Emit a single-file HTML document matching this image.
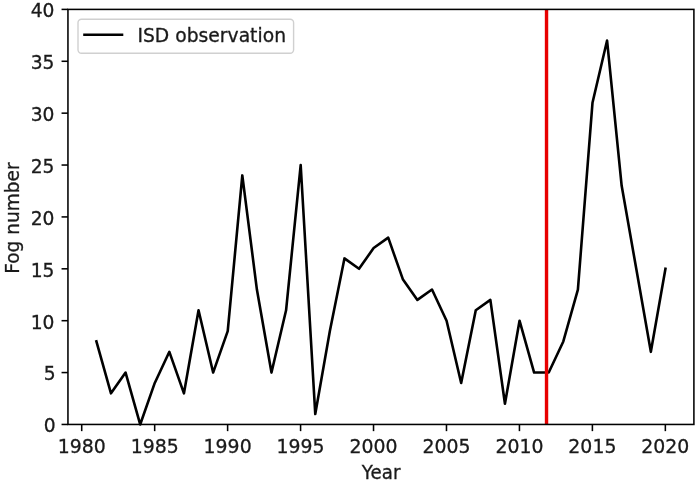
<!DOCTYPE html>
<html><head><meta charset="utf-8"><title>Fog number</title>
<style>html,body{margin:0;padding:0;background:#fff;}svg{display:block;filter:blur(0.6px);}text{font-family:"DejaVu Sans","Liberation Sans",sans-serif;fill:#1a1a1a;stroke:#1a1a1a;stroke-width:0.3px;}</style>
</head><body>
<svg width="700" height="487" viewBox="0 0 700 487">
<rect x="0" y="0" width="700" height="487" fill="#fff"/>
<polyline points="96.40,341.44 110.99,393.32 125.58,372.57 140.18,424.45 154.77,382.94 169.36,351.82 183.95,393.32 198.54,310.31 213.13,372.57 227.72,331.06 242.31,175.42 256.90,289.56 271.49,372.57 286.08,310.31 300.68,165.04 315.27,414.07 329.86,331.06 344.45,258.43 359.04,268.81 373.63,248.05 388.22,237.68 402.81,279.18 417.40,299.93 431.99,289.56 446.58,320.69 461.17,382.94 475.77,310.31 490.36,299.93 504.95,403.70 519.54,320.69 534.13,372.57 548.72,372.57 563.31,341.44 577.90,289.56 592.49,102.79 607.08,40.53 621.67,185.80 636.27,268.81 650.86,351.82 665.45,268.81" fill="none" stroke="#000" stroke-width="2.6" stroke-linejoin="round" stroke-linecap="square"/>
<line x1="546.53" y1="9.4" x2="546.53" y2="424.45" stroke="#e80000" stroke-width="3.4"/>
<rect x="67.95" y="9.4" width="625.9499999999999" height="415.05" fill="none" stroke="#000" stroke-width="1.55"/>
<line x1="81.71" y1="424.45" x2="81.71" y2="431.15" stroke="#000" stroke-width="1.55"/>
<text transform="translate(81.71,452.90) scale(1.01,1.08)" text-anchor="middle" font-size="18.7">1980</text>
<line x1="154.67" y1="424.45" x2="154.67" y2="431.15" stroke="#000" stroke-width="1.55"/>
<text transform="translate(154.67,452.90) scale(1.01,1.08)" text-anchor="middle" font-size="18.7">1985</text>
<line x1="227.62" y1="424.45" x2="227.62" y2="431.15" stroke="#000" stroke-width="1.55"/>
<text transform="translate(227.62,452.90) scale(1.01,1.08)" text-anchor="middle" font-size="18.7">1990</text>
<line x1="300.58" y1="424.45" x2="300.58" y2="431.15" stroke="#000" stroke-width="1.55"/>
<text transform="translate(300.58,452.90) scale(1.01,1.08)" text-anchor="middle" font-size="18.7">1995</text>
<line x1="373.53" y1="424.45" x2="373.53" y2="431.15" stroke="#000" stroke-width="1.55"/>
<text transform="translate(373.53,452.90) scale(1.01,1.08)" text-anchor="middle" font-size="18.7">2000</text>
<line x1="446.48" y1="424.45" x2="446.48" y2="431.15" stroke="#000" stroke-width="1.55"/>
<text transform="translate(446.48,452.90) scale(1.01,1.08)" text-anchor="middle" font-size="18.7">2005</text>
<line x1="519.44" y1="424.45" x2="519.44" y2="431.15" stroke="#000" stroke-width="1.55"/>
<text transform="translate(519.44,452.90) scale(1.01,1.08)" text-anchor="middle" font-size="18.7">2010</text>
<line x1="592.39" y1="424.45" x2="592.39" y2="431.15" stroke="#000" stroke-width="1.55"/>
<text transform="translate(592.39,452.90) scale(1.01,1.08)" text-anchor="middle" font-size="18.7">2015</text>
<line x1="665.35" y1="424.45" x2="665.35" y2="431.15" stroke="#000" stroke-width="1.55"/>
<text transform="translate(665.35,452.90) scale(1.01,1.08)" text-anchor="middle" font-size="18.7">2020</text>
<line x1="61.550000000000004" y1="424.45" x2="67.95" y2="424.45" stroke="#000" stroke-width="1.55"/>
<text transform="translate(55.70,432.35) scale(1.0,1.08)" text-anchor="end" font-size="18.7">0</text>
<line x1="61.550000000000004" y1="372.57" x2="67.95" y2="372.57" stroke="#000" stroke-width="1.55"/>
<text transform="translate(55.70,380.47) scale(1.0,1.08)" text-anchor="end" font-size="18.7">5</text>
<line x1="61.550000000000004" y1="320.69" x2="67.95" y2="320.69" stroke="#000" stroke-width="1.55"/>
<text transform="translate(54.50,328.59) scale(1.0,1.08)" text-anchor="end" font-size="18.7">10</text>
<line x1="61.550000000000004" y1="268.81" x2="67.95" y2="268.81" stroke="#000" stroke-width="1.55"/>
<text transform="translate(54.50,276.71) scale(1.0,1.08)" text-anchor="end" font-size="18.7">15</text>
<line x1="61.550000000000004" y1="216.92" x2="67.95" y2="216.92" stroke="#000" stroke-width="1.55"/>
<text transform="translate(54.50,224.82) scale(1.0,1.08)" text-anchor="end" font-size="18.7">20</text>
<line x1="61.550000000000004" y1="165.04" x2="67.95" y2="165.04" stroke="#000" stroke-width="1.55"/>
<text transform="translate(54.50,172.94) scale(1.0,1.08)" text-anchor="end" font-size="18.7">25</text>
<line x1="61.550000000000004" y1="113.16" x2="67.95" y2="113.16" stroke="#000" stroke-width="1.55"/>
<text transform="translate(54.50,121.06) scale(1.0,1.08)" text-anchor="end" font-size="18.7">30</text>
<line x1="61.550000000000004" y1="61.28" x2="67.95" y2="61.28" stroke="#000" stroke-width="1.55"/>
<text transform="translate(54.50,69.18) scale(1.0,1.08)" text-anchor="end" font-size="18.7">35</text>
<line x1="61.550000000000004" y1="9.40" x2="67.95" y2="9.40" stroke="#000" stroke-width="1.55"/>
<text transform="translate(54.50,17.30) scale(1.0,1.08)" text-anchor="end" font-size="18.7">40</text>
<text transform="translate(381.1,479.2) scale(0.975,1.053)" text-anchor="middle" font-size="18.7">Year</text>
<text transform="translate(19.2,218.05) rotate(-90) scale(0.992,1)" text-anchor="middle" font-size="18.7">Fog number</text>
<rect x="78.0" y="19.2" width="215.6" height="34.0" rx="3.5" fill="#fff" fill-opacity="0.8" stroke="#d0d0d0" stroke-width="1.4"/>
<line x1="84.5" y1="34.8" x2="122" y2="34.8" stroke="#000" stroke-width="2.6" stroke-linecap="square"/>
<text transform="translate(137.4,42.2) scale(1.003,1.08)" font-size="18.7">ISD observation</text>
</svg>
</body></html>
